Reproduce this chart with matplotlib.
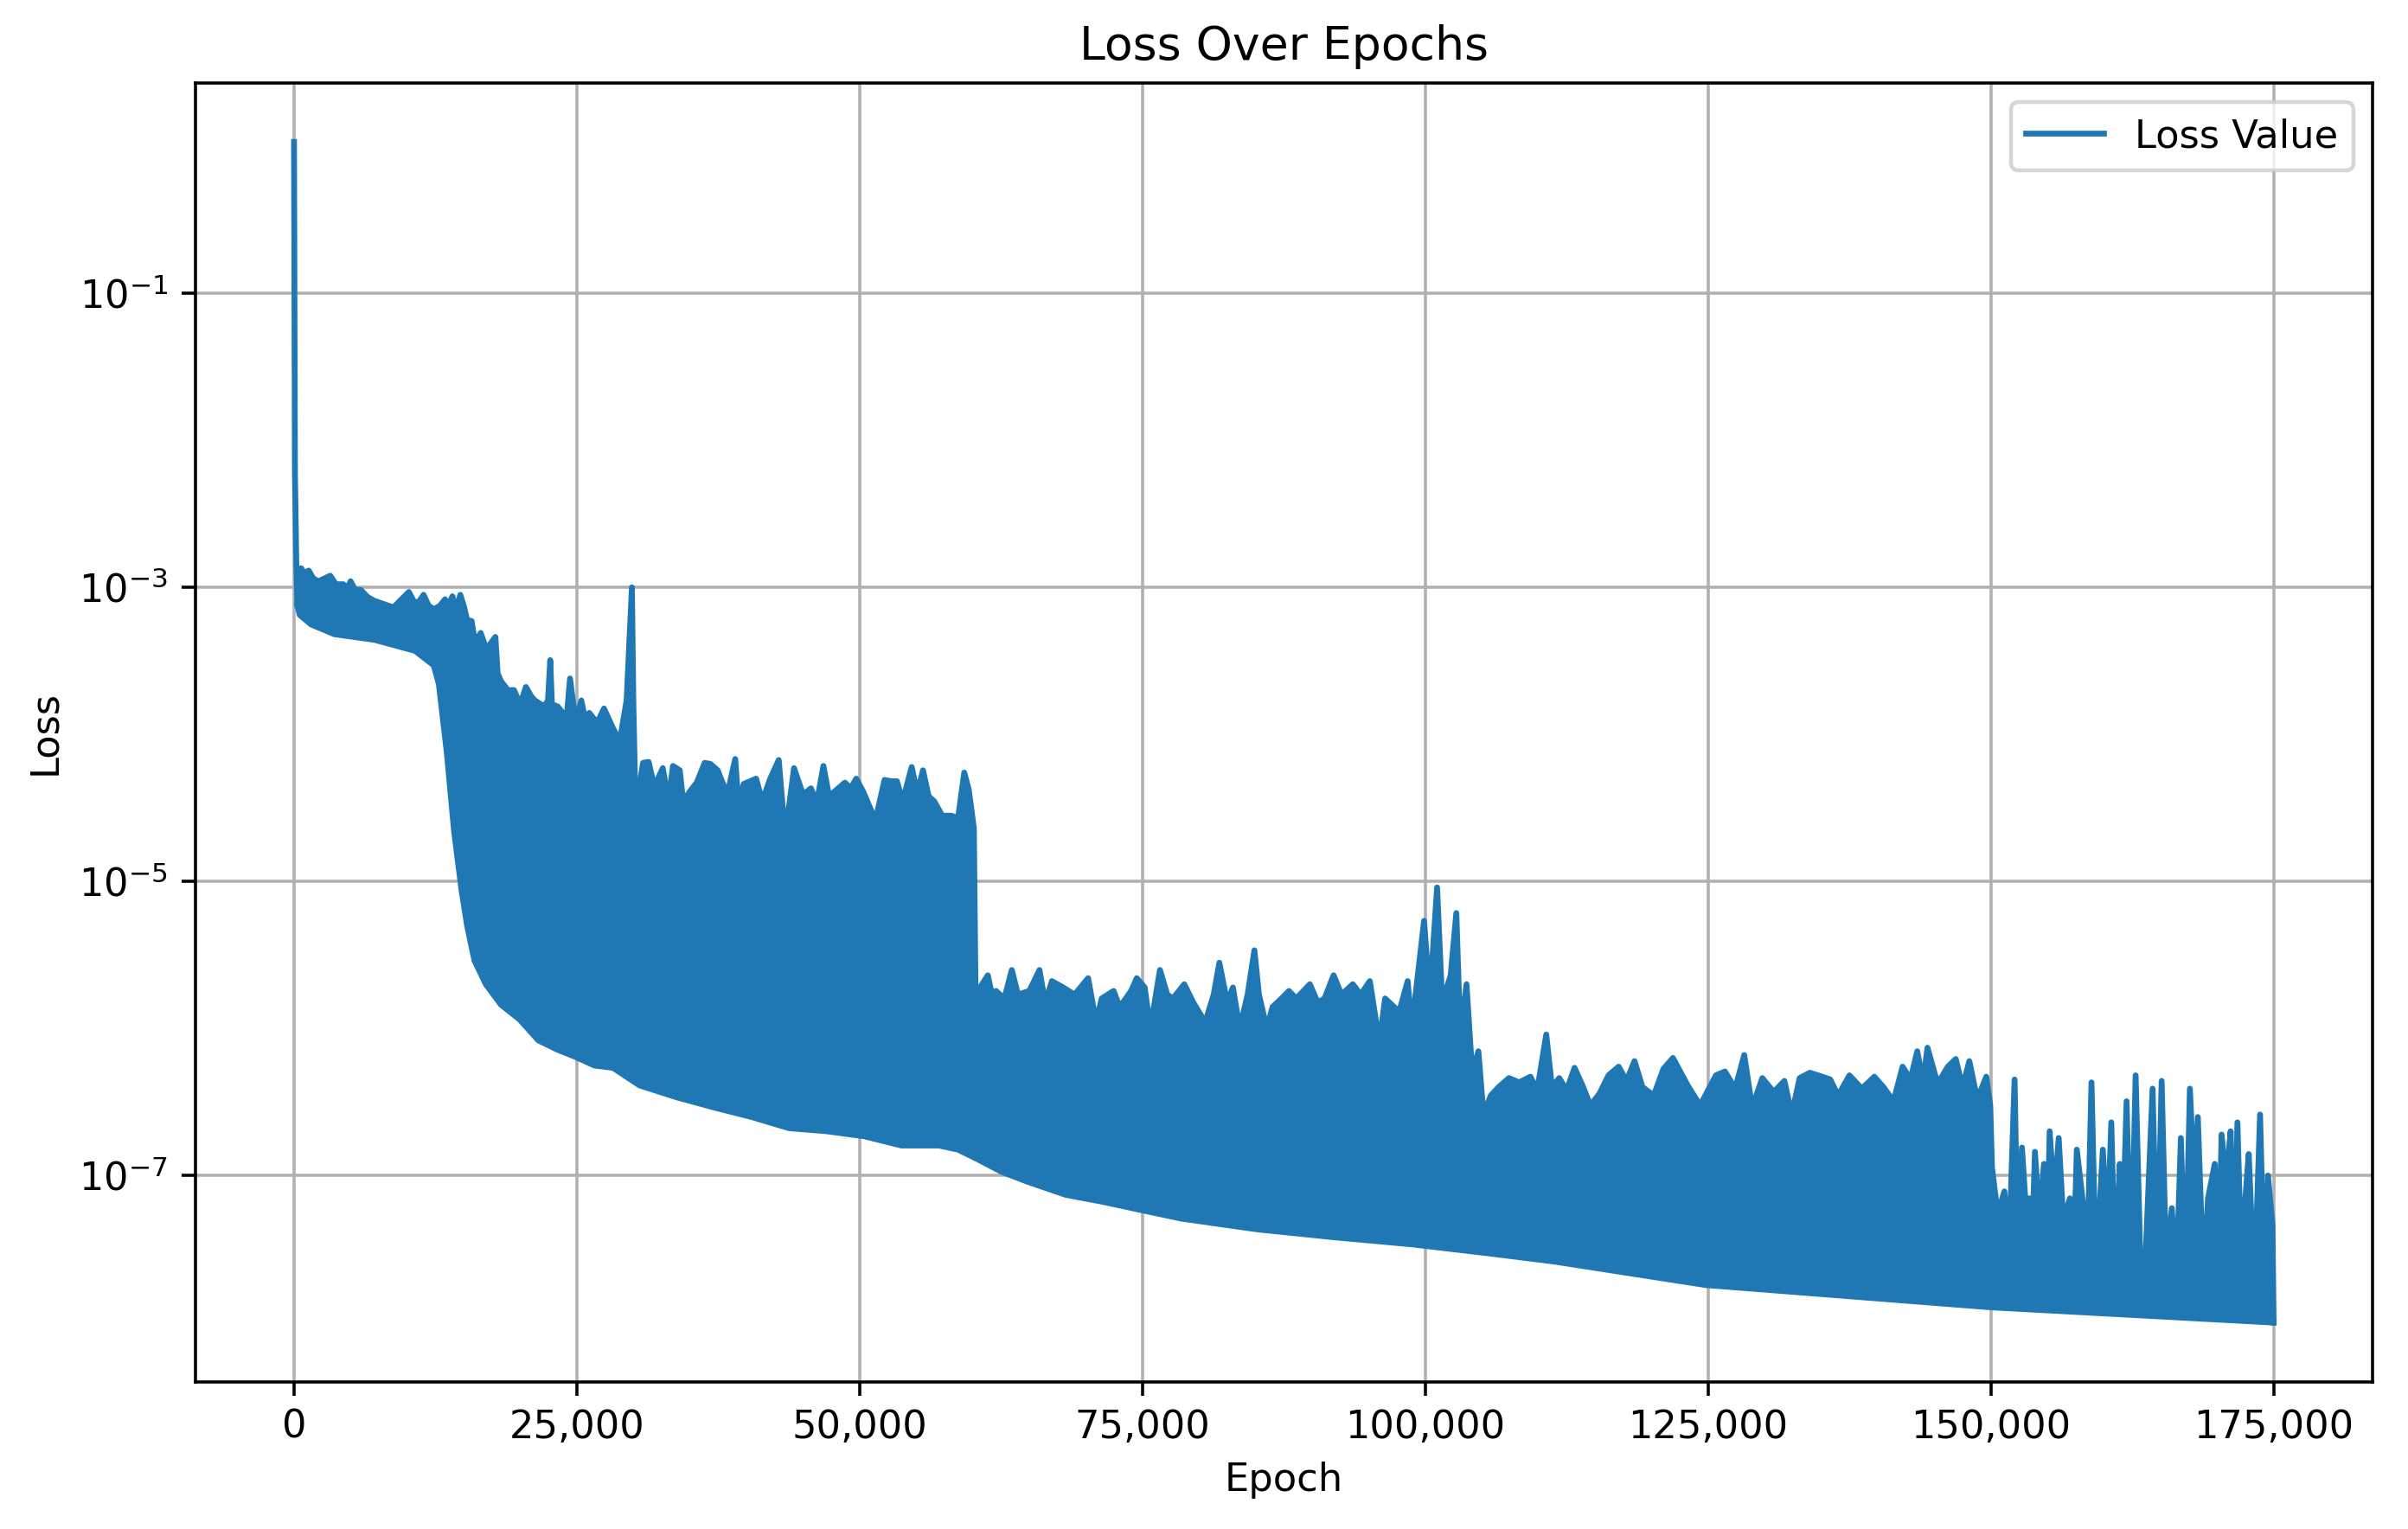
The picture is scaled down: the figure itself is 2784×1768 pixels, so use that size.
import numpy as np
import matplotlib
matplotlib.use("Agg")
import matplotlib.pyplot as plt
from matplotlib.ticker import FuncFormatter, FixedLocator, NullLocator

# upper edge of the loss trace (peaks and dips)
upper_epochs = [
    0, 80, 200, 300, 620, 900, 1300, 1700, 2150, 2700, 3200, 3700, 4350, 4700,
    5000, 5400, 5900, 6500, 7100, 8150, 8800, 9300, 10150, 10600, 11000, 11450,
    11900, 12350, 12900, 13350, 13700, 14000, 14300, 14700, 15000, 15300, 15700,
    16000, 16500, 17000, 17800, 18000, 18300, 18900, 19450, 20000, 20500, 21000,
    21300, 22100, 22450, 22650, 22800, 23300, 24100, 24400, 24900, 25400, 25700,
    26100, 26800, 27400, 28200, 28800, 29400, 29870, 30000, 30200, 30850, 31350,
    31850, 32600, 33100, 33500, 34100, 34400, 35000, 35600, 36300, 36800, 37450,
    38300, 39000, 39300, 39750, 40850, 41400, 42050, 42850, 43400, 43800, 44200,
    45000, 45700, 46200, 46800, 47300, 48700, 49200, 49700, 50300, 51400, 52200,
    52800, 53300, 53800, 54600, 55100, 55600, 56100, 56600, 57300, 58100, 58700,
    59250, 59650, 60100, 60250, 61330, 61700, 62050, 62800, 63450, 64000, 65000,
    65900, 66400, 67000, 68000, 69000, 70200, 70900, 71400, 72450, 73000, 74000,
    74500, 75200, 75700, 76550, 77200, 77700, 78700, 79500, 80550, 81300, 81800,
    82500, 83000, 83600, 84300, 84900, 85300, 86000, 86500, 87300, 87950, 88600,
    89800, 90500, 91100, 91900, 92600, 93600, 94300, 95100, 95950, 96450, 97700,
    98450, 98800, 99400, 99900, 100400, 101050, 101500, 102250, 102750, 103100,
    103650, 104150, 104700, 105150, 105800, 106500, 107400, 108300, 109300,
    109900, 110700, 111200, 111850, 112500, 113200, 113900, 114600, 115400,
    116200, 117100, 117800, 118500, 119200, 120200, 121050, 121900, 123200,
    124300, 125000, 125700, 126500, 127400, 128200, 128900, 129800, 130800,
    131750, 132400, 133100, 134000, 135100, 135800, 136500, 137500, 138600,
    139700, 140500, 141400, 142200, 142900, 143500, 144000, 144400, 145300,
    146200, 146900, 147500, 148100, 148800, 149600, 149950, 150100, 150600,
    151200, 151600, 152100, 152400, 152750, 153100, 153400, 153600, 153900,
    154300, 154700, 154950, 155200, 155600, 156000, 156400, 157000, 157300,
    157600, 158200, 158500, 158900, 159300, 159900, 160300, 160650, 161000,
    161400, 161700, 162000, 162400, 162800, 163200, 163600, 164300, 164700,
    165100, 165500, 166000, 166400, 166800, 167200, 167600, 168000, 168300,
    168800, 169200, 169800, 170100, 170400, 170800, 171200, 171500, 171800,
    172200, 172500, 172800, 173300, 173800, 174200, 174500, 174900, 175000,
]
upper_loss = [
    1.07, 6.0e-3, 1.5e-3, 7.5e-4, 1.35e-3, 1.25e-3, 1.3e-3, 1.15e-3, 1.1e-3,
    1.15e-3, 1.2e-3, 1.05e-3, 1.05e-3, 9.8e-4, 1.1e-3, 9.6e-4, 9.6e-4, 8.6e-4,
    8.1e-4, 7.6e-4, 7.3e-4, 8.0e-4, 9.3e-4, 8.0e-4, 7.9e-4, 8.9e-4, 7.5e-4,
    7.1e-4, 7.5e-4, 8.3e-4, 7.6e-4, 8.7e-4, 7.0e-4, 8.9e-4, 7.5e-4, 6.0e-4,
    5.9e-4, 4.2e-4, 4.9e-4, 3.8e-4, 4.6e-4, 2.6e-4, 2.3e-4, 2.0e-4, 2.0e-4,
    1.6e-4, 2.1e-4, 1.8e-4, 1.7e-4, 1.55e-4, 1.7e-4, 3.2e-4, 1.6e-4, 1.55e-4,
    1.3e-4, 2.4e-4, 1.2e-4, 1.7e-4, 1.3e-4, 1.4e-4, 1.2e-4, 1.5e-4, 1.1e-4,
    9.0e-5, 1.7e-4, 1.0e-3, 1.6e-4, 3.0e-5, 6.4e-5, 6.5e-5, 4.4e-5, 5.9e-5,
    3.5e-5, 6.1e-5, 5.7e-5, 3.5e-5, 4.1e-5, 4.7e-5, 6.4e-5, 6.3e-5, 5.7e-5,
    3.9e-5, 6.8e-5, 3.3e-5, 4.6e-5, 5.0e-5, 3.5e-5, 4.9e-5, 6.7e-5, 2.1e-5,
    3.4e-5, 5.9e-5, 3.9e-5, 4.3e-5, 3.4e-5, 6.1e-5, 3.8e-5, 4.7e-5, 4.3e-5,
    5.0e-5, 4.1e-5, 2.6e-5, 4.9e-5, 4.8e-5, 4.8e-5, 3.5e-5, 6.0e-5, 4.0e-5,
    5.7e-5, 3.8e-5, 3.5e-5, 2.8e-5, 2.8e-5, 2.7e-5, 5.5e-5, 4.2e-5, 2.3e-5,
    1.7e-6, 2.3e-6, 1.7e-6, 1.8e-6, 1.6e-6, 2.5e-6, 1.7e-6, 1.8e-6, 2.5e-6,
    1.5e-6, 2.1e-6, 1.9e-6, 1.7e-6, 2.2e-6, 1.1e-6, 1.6e-6, 1.8e-6, 1.4e-6,
    1.8e-6, 2.2e-6, 1.9e-6, 1.0e-6, 2.5e-6, 1.7e-6, 1.6e-6, 2.0e-6, 1.5e-6,
    1.1e-6, 1.7e-6, 2.8e-6, 1.5e-6, 1.9e-6, 1.0e-6, 1.7e-6, 3.4e-6, 1.7e-6,
    1.0e-6, 1.4e-6, 1.6e-6, 1.8e-6, 1.6e-6, 2.0e-6, 1.5e-6, 1.6e-6, 2.3e-6,
    1.7e-6, 2.0e-6, 1.7e-6, 2.1e-6, 8.0e-7, 1.6e-6, 1.3e-6, 2.1e-6, 1.0e-6,
    2.5e-6, 5.4e-6, 1.6e-6, 9.1e-6, 1.5e-6, 2.3e-6, 6.1e-6, 9.0e-7, 2.0e-6,
    5.0e-7, 7.0e-7, 2.6e-7, 3.5e-7, 4.0e-7, 4.6e-7, 4.3e-7, 4.7e-7, 3.8e-7,
    9.1e-7, 4.0e-7, 4.6e-7, 3.8e-7, 5.4e-7, 4.1e-7, 3.0e-7, 3.6e-7, 4.8e-7,
    5.5e-7, 4.4e-7, 6.0e-7, 4.0e-7, 3.5e-7, 5.3e-7, 6.3e-7, 4.1e-7, 3.0e-7,
    3.8e-7, 4.8e-7, 5.1e-7, 3.9e-7, 6.6e-7, 2.9e-7, 4.6e-7, 3.7e-7, 4.4e-7,
    2.6e-7, 4.6e-7, 5.0e-7, 4.7e-7, 4.5e-7, 3.5e-7, 4.8e-7, 3.9e-7, 4.7e-7,
    4.0e-7, 3.2e-7, 5.5e-7, 4.5e-7, 7.0e-7, 4.3e-7, 7.4e-7, 4.2e-7, 5.5e-7,
    6.2e-7, 4.0e-7, 6.0e-7, 3.3e-7, 4.7e-7, 3.0e-7, 1.14e-7, 5.5e-8, 7.8e-8,
    3.0e-8, 4.5e-7, 2.5e-8, 1.55e-7, 6.0e-8, 7.0e-8, 2.5e-8, 1.45e-7, 5.0e-8,
    1.2e-7, 2.4e-8, 2.0e-7, 7.0e-8, 1.8e-7, 5.0e-8, 7.0e-8, 2.2e-8, 1.5e-7,
    6.0e-8, 2.2e-8, 4.3e-7, 2.1e-8, 1.5e-7, 4.0e-8, 2.3e-7, 2.1e-8, 1.2e-7,
    5.0e-8, 3.2e-7, 2.0e-8, 4.8e-7, 3.0e-8, 2.0e-8, 3.9e-7, 2.0e-8, 4.4e-7,
    2.5e-8, 6.0e-8, 1.9e-8, 1.8e-7, 1.9e-8, 3.9e-7, 8.0e-8, 2.5e-7, 1.9e-8,
    7.0e-8, 1.2e-7, 1.8e-8, 1.9e-7, 9.0e-8, 2.0e-7, 1.8e-8, 2.3e-7, 1.8e-8,
    7.0e-8, 1.4e-7, 1.7e-8, 2.6e-7, 1.7e-8, 1.0e-7, 4.6e-8, 1.0e-8,
]

# lower envelope of the loss trace
lower_epochs = [
    300, 500, 1500, 3560, 7100, 10700, 12350, 12800, 13500, 14150, 14800,
    15300, 15950, 16950, 18300, 19950, 21600, 23250, 24900, 26550, 28200,
    30550, 33850, 37150, 40450, 43750, 47100, 50400, 53700, 57000, 58700,
    60350, 62550, 64800, 68200, 71600, 75000, 78400, 85200, 92000, 98900,
    105700, 111400, 124800, 150000, 175000,
]
lower_loss = [
    7.5e-4, 6.5e-4, 5.6e-4, 4.8e-4, 4.4e-4, 3.7e-4, 2.95e-4, 2.2e-4, 7.6e-5,
    2.2e-5, 8.8e-6, 5.0e-6, 2.9e-6, 2.0e-6, 1.45e-6, 1.15e-6, 8.3e-7, 7.2e-7,
    6.4e-7, 5.6e-7, 5.4e-7, 4.1e-7, 3.4e-7, 2.9e-7, 2.5e-7, 2.1e-7, 2.0e-7,
    1.85e-7, 1.6e-7, 1.6e-7, 1.5e-7, 1.3e-7, 1.06e-7, 9.1e-8, 7.4e-8, 6.6e-8,
    5.8e-8, 5.1e-8, 4.3e-8, 3.8e-8, 3.4e-8, 2.95e-8, 2.6e-8, 1.8e-8, 1.27e-8,
    1.0e-8,
]

color = "#1f77b4"
DPI = 322

fig, ax = plt.subplots(figsize=(2784 / DPI, 1768 / DPI), dpi=DPI)
fig.subplots_adjust(left=0.081, right=0.9853, top=0.9458, bottom=0.0964)
ax.set_axisbelow(True)

# band between the envelopes (the dense oscillation)
poly_x = np.concatenate([upper_epochs, lower_epochs[::-1]])
poly_y = np.concatenate([upper_loss, lower_loss[::-1]])
ax.fill(poly_x, poly_y, color=color, lw=0)
ax.plot(lower_epochs, lower_loss, color=color, lw=1.5)
ax.plot(upper_epochs, upper_loss, color=color, lw=1.5, label="Loss Value")

ax.set_yscale("log")
ax.yaxis.set_major_locator(FixedLocator([1e-1, 1e-3, 1e-5, 1e-7]))
ax.yaxis.set_minor_locator(NullLocator())
ax.xaxis.set_major_formatter(FuncFormatter(lambda v, p: f"{v:,.0f}"))

ax.set_title("Loss Over Epochs")
ax.set_xlabel("Epoch")
ax.set_ylabel("Loss")
ax.legend(loc="upper right")
ax.grid(True)

fig.savefig("out.png", dpi=DPI)
